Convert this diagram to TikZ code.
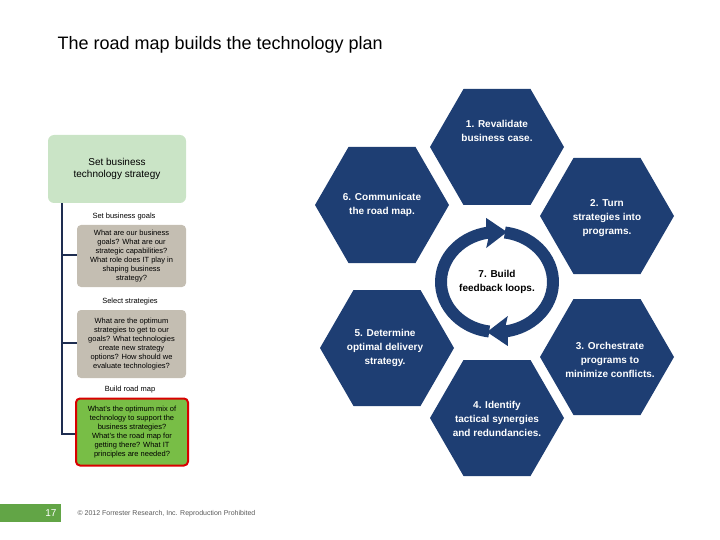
\documentclass[tikz,border=0pt]{standalone}
\usepackage{fontspec}
\setmainfont{Liberation Sans}
\begin{document}
\begin{tikzpicture}[x=1pt,y=-1pt,
  hexfill/.style={fill=hexblue},
  hextxt/.style={text=white,font=\bfseries\fontsize{10}{14}\selectfont,align=center},
  graybox/.style={fill=boxgray,rounded corners=4pt,align=center,font=\fontsize{7.5}{9}\selectfont,inner sep=1pt},
  lbl/.style={font=\fontsize{7.5}{9}\selectfont},
  tree/.style={draw=treeblue,line width=2pt}]
\definecolor{hexblue}{RGB}{30,62,115}
\definecolor{boxgray}{RGB}{196,190,178}
\definecolor{lgreen}{RGB}{202,228,198}
\definecolor{mgreen}{RGB}{120,190,70}
\definecolor{fgreen}{RGB}{98,165,70}
\definecolor{treeblue}{RGB}{30,45,80}
\useasboundingbox (0,0) rectangle (720,540);
\node[anchor=west,font=\fontsize{18}{20}\selectfont] (title) at (54,45) {The road map builds the technology plan};
% hexagons
\foreach \n/\cx/\cy in {h1/497/147, h2/607/216, h3/607/357, h4/497/418, h5/387/348, h6/382/205}{
  \fill[hexblue] (\cx-67,\cy) -- (\cx-33.5,\cy-58) -- (\cx+33.5,\cy-58) -- (\cx+67,\cy) -- (\cx+33.5,\cy+58) -- (\cx-33.5,\cy+58) -- cycle;
  \coordinate (\n) at (\cx,\cy);
}
\node[hextxt] (t1) at (497,131) {1. Revalidate\\business case.};
\node[hextxt] (t2) at (607,218) {2. Turn\\strategies into\\programs.};
\node[hextxt] (t3) at (610,360) {3. Orchestrate\\programs to\\minimize conflicts.};
\node[hextxt] (t4) at (497,419) {4. Identify\\tactical synergies\\and redundancies.};
\node[hextxt] (t5) at (385,348) {5. Determine\\optimal delivery\\strategy.};
\node[hextxt] (t6) at (382,205) {6. Communicate\\the road map.};
% loop
\begin{scope}[shift={(497,282)},y=1pt]
\fill[white] (0,0) ellipse[x radius=66,y radius=60];
\fill[hexblue] (262:62 and 56) arc[start angle=262,end angle=100,x radius=62,y radius=56] -- (-10.8,64) -- (10,50) -- (-10.8,34) -- (100:50 and 44) arc[start angle=100,end angle=262,x radius=50,y radius=44] -- cycle;
\fill[hexblue] (82:62 and 56) arc[start angle=82,end angle=-80,x radius=62,y radius=56] -- (10.8,-64) -- (-10,-50) -- (10.8,-34) -- (-80:50 and 44) arc[start angle=-80,end angle=82,x radius=50,y radius=44] -- cycle;
\end{scope}
\node[font=\bfseries\fontsize{10}{14}\selectfont,align=center] (t7) at (497,282) {7. Build\\feedback loops.};
% left panel
\node[fill=lgreen,rounded corners=6pt,minimum width=138pt,minimum height=68pt,align=center,font=\fontsize{10}{12}\selectfont] (top) at (117,169) {Set business\\technology strategy};
\node[graybox,minimum width=109pt,minimum height=62pt] (g1) at (131.5,256) {What are our business\\goals? What are our\\strategic capabilities?\\What role does IT play in\\shaping business\\strategy?};
\node[graybox,minimum width=109pt,minimum height=68pt] (g2) at (131.5,344) {What are the optimum\\strategies to get to our\\goals? What technologies\\create new strategy\\options? How should we\\evaluate technologies?};
\node[graybox,fill=mgreen,draw=red!85!black,line width=2pt,minimum width=112pt,minimum height=67pt] (g3) at (132,432) {What's the optimum mix of\\technology to support the\\business strategies?\\What's the road map for\\getting there? What IT\\principles are needed?};
\node[lbl] (l1) at (124,217) {Set business goals};
\node[lbl] (l2) at (130,302) {Select strategies};
\node[lbl] (l3) at (130,390) {Build road map};
\coordinate (tb) at (62,203);
\draw[tree] (tb) -- (62,434) -- (g3.west |- 0,434);
\draw[tree] (62,255) -- (g1.west |- 0,255);
\draw[tree] (62,343) -- (g2.west |- 0,343);
% footer
\node[fill=fgreen,minimum width=61pt,minimum height=18pt,inner sep=0,text=white,font=\fontsize{10}{12}\selectfont,align=right,text width=52pt] (pg) at (30.5,513) {17};
\node[anchor=west,text=gray!70!black,font=\fontsize{7}{8}\selectfont] (copy) at (74,514) {© 2012 Forrester Research, Inc. Reproduction Prohibited};
\end{tikzpicture}
\end{document}
